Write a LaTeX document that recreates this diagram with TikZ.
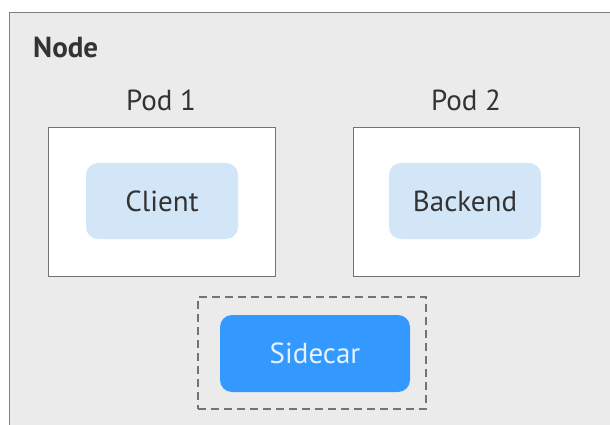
\documentclass[tikz,border=0pt]{standalone}
\usepackage{fontspec}
\setmainfont{PT Sans}
\begin{document}
\begin{tikzpicture}[x=1pt,y=-1pt,
  txt/.style={text=black!80, font=\fontsize{29}{31}\selectfont, inner sep=0pt},
  podbox/.style={draw=black!55, line width=1.2pt, fill=white},
  appbox/.style={rounded corners=12pt, minimum width=152pt, minimum height=76pt, inner sep=0pt},
]
\definecolor{outerfill}{HTML}{EBEBEB}
\definecolor{appfill}{HTML}{D2E6F8}
\definecolor{sidefill}{HTML}{3399FF}
\definecolor{sidetext}{HTML}{E6F2FF}
\useasboundingbox (0,0) rectangle (610,425);
\begin{scope}
\clip (0,0) rectangle (610,425);
\node[draw=black!50, line width=1.4pt, fill=outerfill, minimum width=620pt, minimum height=430pt, anchor=north west, inner sep=0pt] (outer) at (9,12) {};
\end{scope}
\node[txt, font=\fontsize{29}{31}\selectfont\bfseries, anchor=west] (nodelbl) at (33,47) {Node};
\node[txt] (pod1lbl) at (161,100) {Pod 1};
\node[txt] (pod2lbl) at (466,100) {Pod 2};
\node[podbox, minimum width=227pt, minimum height=149pt, anchor=north west, inner sep=0pt] (pod1) at (48,127) {};
\node[podbox, minimum width=226pt, minimum height=149pt, anchor=north west, inner sep=0pt] (pod2) at (353,127) {};
\node[appbox, fill=appfill] (client) at (162,201) {};
\node[txt] (clienttxt) at (client) {Client};
\node[appbox, fill=appfill] (backend) at (465,201) {};
\node[txt] (backendtxt) at (backend) {Backend};
\node[draw=black!55, line width=1.4pt, dash pattern=on 8pt off 5pt, minimum width=228pt, minimum height=112pt, inner sep=0pt] (sidebox) at (312,353) {};
\node[fill=sidefill, rounded corners=12pt, minimum width=190pt, minimum height=77pt, inner sep=0pt] (sidecar) at (315,353.5) {};
\node[txt, text=sidetext] (sidetxt) at (sidecar) {Sidecar};
\end{tikzpicture}
\end{document}
